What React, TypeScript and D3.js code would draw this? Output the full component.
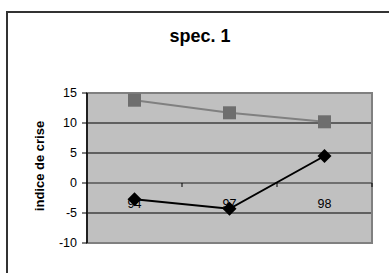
import React from "react";
import * as d3 from "d3";

const categories = ["94", "97", "98"];
const seriesSquare = [13.8, 11.7, 10.2];
const seriesDiamond = [-2.7, -4.3, 4.5];
const yTicks = [15, 10, 5, 0, -5, -10];

export default function App() {
  const W = 389, H = 273;
  const left = 87, right = 372, top = 93, bottom = 243;
  const x = d3.scaleBand().domain(categories).range([left, right]);
  const y = d3.scaleLinear().domain([-10, 15]).range([bottom, top]);
  const cx = (c: string) => (x(c) as number) + x.bandwidth() / 2;
  const line = d3
    .line<number>()
    .x((_, i) => cx(categories[i]))
    .y((d) => y(d));
  const font = "Arial, 'Liberation Sans', sans-serif";
  const boundaries = [left + x.bandwidth(), left + 2 * x.bandwidth(), right];
  return (
    <svg
      width={W}
      height={H}
      style={{ position: "absolute", left: 0, top: 0 }}
      fontFamily={font}
    >
      <rect x={0} y={0} width={W} height={H} fill="#fff" />
      <rect x={7} y={12} width={W + 10} height={H + 10} fill="none" stroke="#333" strokeWidth={2} />
      <text x={200} y={42} textAnchor="middle" fontSize={18} fontWeight="bold" fill="#000">
        spec. 1
      </text>
      <rect x={left} y={top} width={right - left} height={bottom - top} fill="#c0c0c0" />
      {[10, 5, -5].map((t) => (
        <line key={t} x1={left} x2={right} y1={y(t)} y2={y(t)} stroke="#000" strokeWidth={1} />
      ))}
      <rect x={left} y={top} width={right - left} height={bottom - top} fill="none" stroke="#808080" strokeWidth={2} />
      <line x1={left} x2={right} y1={y(0)} y2={y(0)} stroke="#555" strokeWidth={1.5} />
      {boundaries.map((b, i) => (
        <line key={i} x1={b} x2={b} y1={y(0)} y2={y(0) + 4} stroke="#000" strokeWidth={1} />
      ))}
      <line x1={left} x2={left} y1={top} y2={bottom} stroke="#000" strokeWidth={1.5} />
      {yTicks.map((t) => (
        <g key={t}>
          <line x1={left - 5} x2={left} y1={y(t)} y2={y(t)} stroke="#000" strokeWidth={1} />
          <text x={77} y={y(t)} dy="0.35em" textAnchor="end" fontSize={12.5} fill="#000">
            {t}
          </text>
        </g>
      ))}
      {categories.map((c) => (
        <text key={c} x={cx(c)} y={y(0) + 25} textAnchor="middle" fontSize={12.5} fill="#000">
          {c}
        </text>
      ))}
      <text
        transform={`translate(44,${(top + bottom) / 2 - 2}) rotate(-90)`}
        textAnchor="middle"
        fontSize={13}
        fontWeight="bold"
        fill="#000"
      >
        indice de crise
      </text>
      <path d={line(seriesSquare) || ""} fill="none" stroke="#808080" strokeWidth={2} />
      {seriesSquare.map((v, i) => (
        <rect key={i} x={cx(categories[i]) - 6.5} y={y(v) - 6.5} width={13} height={13} fill="#6e6e6e" />
      ))}
      <path d={line(seriesDiamond) || ""} fill="none" stroke="#000" strokeWidth={2} />
      {seriesDiamond.map((v, i) => {
        const px = cx(categories[i]);
        const py = y(v);
        return (
          <path key={i} d={`M${px},${py - 7}L${px + 7},${py}L${px},${py + 7}L${px - 7},${py}Z`} fill="#000" />
        );
      })}
    </svg>
  );
}
